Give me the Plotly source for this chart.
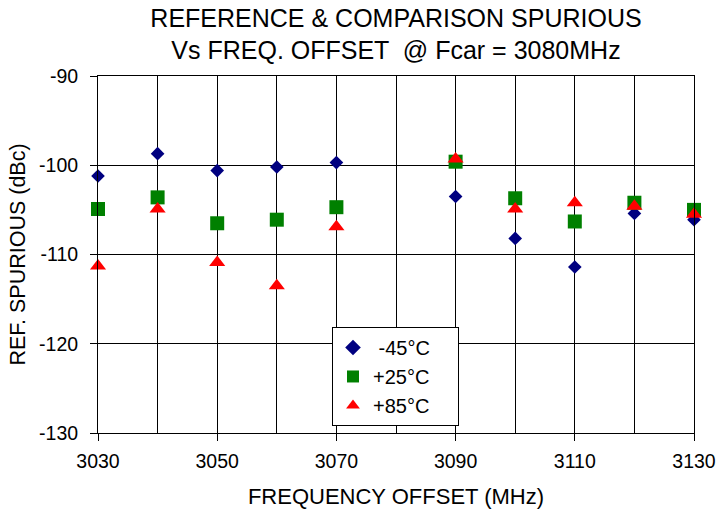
import plotly.graph_objects as go

freq = [3030, 3040, 3050, 3060, 3070, 3090, 3100, 3110, 3120, 3130]
spur_m45 = [-101.2, -98.7, -100.6, -100.2, -99.7, -103.5, -108.2, -111.4, -105.4, -106.1]
spur_p25 = [-104.9, -103.6, -106.5, -106.1, -104.7, -99.6, -103.7, -106.3, -104.2, -105.0]
spur_p85 = [-111.3, -104.9, -110.9, -113.5, -106.9, -99.3, -104.9, -104.2, -104.6, -105.5]

series_names = ["\u00a0-45°C\u00a0\u00a0\u00a0\u00a0", "+25°C\u00a0\u00a0\u00a0\u00a0", "+85°C\u00a0\u00a0\u00a0\u00a0"]
x_tickvals = [3030, 3050, 3070, 3090, 3110, 3130]
x_ticktext = ["3030", "3050", "3070", "3090", "3110", "3130"]
y_tickvals = [-130, -120, -110, -100, -90]
y_ticktext = ["-130", "-120", "-110", "-100", "-90"]

FONT = "Liberation Sans, Arial, sans-serif"

fig = go.Figure()
fig.add_trace(go.Scatter(x=freq, y=spur_m45, mode="markers", name=series_names[0],
                         marker=dict(symbol="diamond", size=10.5, color="#000080",
                                     line=dict(width=0)), cliponaxis=False))
fig.add_trace(go.Scatter(x=freq, y=spur_p25, mode="markers", name=series_names[1],
                         marker=dict(symbol="square", size=14, color="#008000",
                                     line=dict(width=0)), cliponaxis=False))
fig.add_trace(go.Scatter(x=freq, y=spur_p85, mode="markers", name=series_names[2],
                         marker=dict(symbol="triangle-up", size=14, color="#FF0000",
                                     line=dict(width=0)), cliponaxis=False))

fig.update_layout(
    width=718, height=514,
    margin=dict(l=98, r=24, t=76, b=81, autoexpand=False),
    paper_bgcolor="white", plot_bgcolor="white",
    font=dict(family=FONT, color="black", size=19.5),
    title=dict(text="REFERENCE & COMPARISON SPURIOUS<br>Vs FREQ. OFFSET  @ Fcar = 3080MHz",
               font=dict(family=FONT, size=25, color="black"),
               x=0.5, xref="paper", xanchor="center",
               y=0.9475, yref="container", yanchor="top", automargin=False),
    showlegend=True,
    legend=dict(x=0.3926, y=0.297, xanchor="left", yanchor="top",
                bgcolor="white", bordercolor="black", borderwidth=1,
                font=dict(family=FONT, size=20, color="black"),
                itemsizing="constant"),
    xaxis=dict(range=[3030, 3130], tickmode="array", tickvals=x_tickvals, ticktext=x_ticktext,
               automargin=False,
               showgrid=True, gridcolor="black", gridwidth=1,
               minor=dict(dtick=10, tick0=3030, showgrid=True, gridcolor="black", gridwidth=1, ticks=""),
               showline=True, linecolor="black", linewidth=1, mirror=True,
               ticks="outside", ticklen=7, tickcolor="black", zeroline=False,
               ticklabelstandoff=4,
               title=dict(text="FREQUENCY OFFSET (MHz)", font=dict(family=FONT, size=22), standoff=17),
               tickfont=dict(family=FONT, size=19.5)),
    yaxis=dict(range=[-130, -90], tickmode="array", tickvals=y_tickvals, ticktext=y_ticktext,
               automargin=False,
               showgrid=True, gridcolor="black", gridwidth=1,
               showline=True, linecolor="black", linewidth=1, mirror=True,
               ticks="outside", ticklen=7, tickcolor="black", zeroline=False,
               ticklabelstandoff=8,
               title=dict(text="REF. SPURIOUS (dBc)", font=dict(family=FONT, size=21.5), standoff=7),
               tickfont=dict(family=FONT, size=19.5)),
)

fig.write_html("out.html", config={"displayModeBar": False},
               post_script="document.body.style.margin='0';document.body.style.overflow='hidden';")
